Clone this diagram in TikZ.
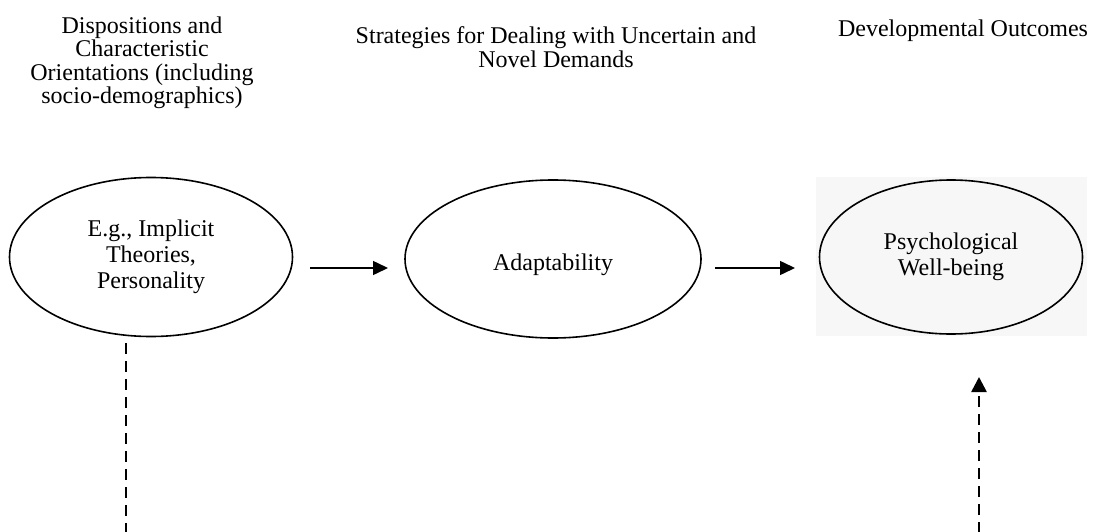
\documentclass[tikz,border=0pt]{standalone}
\usepackage{fontspec}
\setmainfont{Liberation Serif}
\usetikzlibrary{shapes.geometric,arrows.meta}
\begin{document}
\begin{tikzpicture}[x=1pt,y=-1pt,
  hdr/.style={align=center,inner sep=0pt,font=\fontsize{24}{23.5}\selectfont},
  oval/.style={ellipse,draw,line width=1.6pt,inner sep=0pt,align=center,font=\fontsize{24}{26}\selectfont},
  arr/.style={line width=1.5pt,-{Triangle[length=15pt,width=14pt]}},
  dashline/.style={line width=2.6pt,dash pattern=on 11pt off 7pt},
  dasharr/.style={dashline,-{Triangle[length=15pt,width=15pt]}}]
\useasboundingbox (0,0) rectangle (1097,532);
\fill[black!3] (816,177) rectangle (1087,336);
\node[hdr] (h1) at (142,63) {Dispositions and\\Characteristic\\Orientations (including\\socio-demographics)};
\node[hdr] (h2) at (556,47) {Strategies for Dealing with Uncertain and\\Novel Demands};
\node[hdr] (h3) at (963,31) {Developmental Outcomes};
\node[oval,minimum width=283pt,minimum height=159pt] (disp) at (151,257) {E.g., Implicit\\Theories,\\Personality};
\node[oval,minimum width=296pt,minimum height=158pt,text height=22pt,text depth=0pt] (adapt) at (553,259) {Adaptability};
\node[oval,minimum width=263pt,minimum height=154pt] (psy) at (951,257) {Psychological\\Well-being};
\coordinate (a1s) at (310,268);
\coordinate (a1e) at (388,268);
\coordinate (a2s) at (715,268);
\coordinate (a2e) at (795,268);
\draw[arr] (a1s) -- (a1e);
\draw[arr] (a2s) -- (a2e);
\coordinate (l1) at (126,533);
\draw[dashline] (disp.south -| l1) ++(0,6) -- (l1);
\coordinate (r1) at (979,533);
\coordinate (r2) at (979,377);
\draw[dasharr] (r1) -- (r2);
\end{tikzpicture}
\end{document}
